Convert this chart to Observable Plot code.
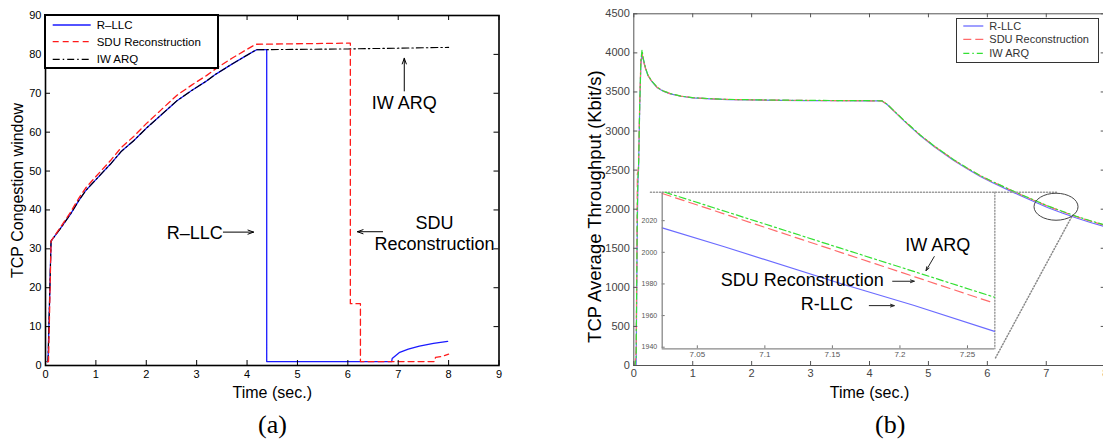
<!DOCTYPE html>
<html><head><meta charset="utf-8">
<script src="https://cdn.jsdelivr.net/npm/d3@7"></script>
<script src="https://cdn.jsdelivr.net/npm/@observablehq/plot@0.6"></script>
<style>
html,body{margin:0;padding:0;background:#fff;overflow:hidden;}
#wrap{position:relative;width:1103px;height:448px;overflow:hidden;font-family:"Liberation Sans",Arial,Helvetica,sans-serif;}
#wrap > svg, #wrap > div{position:absolute;}
.cap{font-family:"Liberation Serif","Times New Roman",serif;font-size:26px;line-height:1;}
</style></head><body><div id="wrap"></div>
<script>
// ---------------- Panel (a): TCP congestion window ----------------
const seriesNamesA = ["R–LLC", "SDU Reconstruction", "IW ARQ"];
const xTicksA = [0,1,2,3,4,5,6,7,8,9];
const yTicksA = [0,10,20,30,40,50,60,70,80,90];

const cwTimeRLLC = [0.03,0.05,0.11,0.3,0.5,0.66,0.8,1.0,1.29,1.5,1.75,2.0,2.3,2.61,2.9,3.2,3.39,3.7,4.0,4.19,4.39,4.39,6.87,6.88,7.03,7.2,7.42,7.7,7.98];
const cwRLLC     = [1,1,32,35.3,39.0,42.4,45.0,47.8,51.8,55.0,57.8,61.0,64.5,68.1,70.7,73.2,75.0,77.5,79.8,81.2,81.2,1,1,1.8,3.4,4.2,5.0,5.7,6.2];

const cwTimeSDU = [0.04,0.06,0.11,0.3,0.5,0.66,0.8,1.0,1.29,1.5,1.75,2.0,2.3,2.61,2.9,3.2,3.39,3.7,4.0,4.17,6.05,6.05,6.25,6.25,7.72,7.74,7.85,8.0];
const cwSDU     = [1,1,32,35.6,39.5,43.0,45.7,48.6,52.7,56.0,58.9,62.2,65.8,69.5,72.1,74.6,76.4,79.0,81.3,82.6,82.9,15.9,15.9,1,1,2.1,2.3,2.9];

const cwTimeIW = [0.03,0.05,0.11,0.3,0.5,0.66,0.8,1.0,1.29,1.5,1.75,2.0,2.3,2.61,2.9,3.2,3.39,3.7,4.0,4.19,6.0,8.0];
const cwIW     = [1,1,32,35.3,39.0,42.4,45.0,47.8,51.8,55.0,57.8,61.0,64.5,68.1,70.7,73.2,75.0,77.5,79.8,81.2,81.4,81.8];

const annTextA  = [{label:"R–LLC", t:2.96, v:34.3}, {label:"SDU\nReconstruction", t:7.72, v:34.1}, {label:"IW ARQ", t:7.12, v:67.6}];
const annArrowA = [{t1:3.53,v1:34.3,t2:4.13,v2:34.3}, {t1:6.69,v1:34.4,t2:6.19,v2:34.4}, {t1:7.12,v1:70.6,t2:7.12,v2:79.0}];

// ---------------- Panel (b): TCP average throughput ----------------
const seriesNamesB = ["R-LLC", "SDU Reconstruction", "IW ARQ"];
const xTicksB = [0,1,2,3,4,5,6,7,8];
const yTicksB = [0,500,1000,1500,2000,2500,3000,3500,4000,4500];

const thrTime = [0,0.02,0.04,0.05,0.06,0.07,0.08,0.10,0.12,0.14,0.16,0.20,0.24,0.30,0.40,0.50,0.62,0.80,1.0,1.3,1.6,2.0,2.5,3.0,3.5,4.0,4.21,4.30,4.45,4.60,4.86,5.10,5.43,5.65,5.88,6.10,6.45,6.75,7.02,7.27,7.50,7.75,8.0];
const thrRLLC = [0,0,0,1000,1800,2350,2500,3300,3850,3980,3920,3800,3710,3640,3553,3510,3476,3445,3425,3412,3403,3398,3393,3390,3388,3386,3385,3340,3230,3120,2943,2800,2623,2520,2418,2335,2212,2112,2022,1952,1890,1830,1774];
const thrSDU  = [0,0,200,1200,2450,2480,2550,3350,3900,4000,3900,3800,3712,3642,3556,3512,3478,3446,3426,3413,3404,3399,3394,3391,3389,3387,3386,3342,3233,3124,2948,2806,2630,2528,2427,2346,2225,2127,2040,1970,1908,1848,1792];
const thrIW   = [0,0,100,1100,2000,2400,2520,3300,3900,4040,3930,3805,3715,3645,3558,3513,3479,3447,3427,3414,3405,3400,3395,3392,3390,3388,3387,3343,3234,3126,2950,2808,2633,2531,2430,2349,2228,2130,2043,1974,1912,1852,1796];

// inset (zoom near t = 7.15 s)
const insetXTicks = [7.05,7.1,7.15,7.2,7.25];
const insetYTicks = [1940,1960,1980,2000,2020];
const insetXDomain = [7.024, 7.270];
const insetYDomain = [1939, 2038];
const insTimeRLLC = [7.024,7.07,7.156,7.21,7.27];
const insRLLC     = [2015.4,2003.5,1980.3,1966.5,1950.0];
const insTimeSDU  = [7.024,7.10,7.156,7.20,7.27];
const insSDU      = [2037.2,2015.8,2000.0,1987.6,1967.8];
const insTimeIW   = [7.026,7.10,7.156,7.20,7.27];
const insIW       = [2038.0,2017.9,2002.6,1990.7,1971.6];
const insText  = [{label:"IW ARQ",t:7.228,v:2004.2},{label:"SDU Reconstruction",t:7.1277,v:1982.5},{label:"R-LLC",t:7.1459,v:1966.9}];
const insArrow = [{t1:7.2254,v1:1997.3,t2:7.2193,v2:1988.4},{t1:7.1946,v1:1981.7,t2:7.2106,v2:1981.7},{t1:7.1773,v1:1966.3,t2:7.1958,v2:1966.3}];

// zoom-box annotation (in panel (b) data coordinates)
const zoomTop   = [{t:0.283,v:2217},{t:7.19,v:2217}];
const zoomRight = [{t:6.127,v:2217},{t:6.127,v:214}];
const zoomDiag  = [{t:6.139,v:98},{t:7.427,v:1898}];
const zoomEllipse = {t:7.174, v:2025};

// ---------------- helpers ----------------
const rows = (ts, vs) => ts.map((t,i)=>({t, v: vs[i]}));
function inwardTicks(xt, yt, pw, ph, len, stroke, sides) {
  const m = [];
  if (sides.includes("b")) m.push(Plot.tickX(xt,{x:d=>d, insetTop:ph-len, stroke}));
  if (sides.includes("t")) m.push(Plot.tickX(xt,{x:d=>d, insetBottom:ph-len, stroke}));
  if (sides.includes("l")) m.push(Plot.tickY(yt,{y:d=>d, insetRight:pw-len, stroke}));
  if (sides.includes("r")) m.push(Plot.tickY(yt,{y:d=>d, insetLeft:pw-len, stroke}));
  return m;
}
const FONT = "'Liberation Sans', Arial, Helvetica, sans-serif";
const wrap = d3.select("#wrap");

// ---------------- Plot (a) ----------------
const A = {w:540, h:405, ml:45, mr:41.5, mt:15, mb:40};
const aPW = A.w - A.ml - A.mr, aPH = A.h - A.mt - A.mb;
const colorsA = ["#1a1aff", "#ff1a1a", "#000000"];
const dashA = [null, "6,4", "7,3,1.5,3"];
const plotA = Plot.plot({
  width:A.w, height:A.h, marginLeft:A.ml, marginRight:A.mr, marginTop:A.mt, marginBottom:A.mb,
  x:{domain:[0,9]}, y:{domain:[0,90]},
  style:{fontFamily:FONT, fontSize:"11px", color:"black", background:"transparent"},
  marks:[
    Plot.line(rows(cwTimeRLLC,cwRLLC),{x:"t",y:"v",stroke:colorsA[0],strokeWidth:1.3}),
    Plot.line(rows(cwTimeIW,cwIW),{x:"t",y:"v",stroke:colorsA[2],strokeWidth:1.1,strokeDasharray:dashA[2]}),
    Plot.line(rows(cwTimeSDU,cwSDU),{x:"t",y:"v",stroke:colorsA[1],strokeWidth:1.3,strokeDasharray:dashA[1]}),
    ...inwardTicks(xTicksA, yTicksA, aPW, aPH, 5, "black", "btlr"),
    Plot.frame({stroke:"black", strokeWidth:1.6}),
    Plot.axisX(xTicksA,{tickSize:0, tickPadding:5, label:null, tickFormat:d=>String(d)}),
    Plot.axisY(yTicksA,{tickSize:0, tickPadding:4, label:null, tickFormat:d=>String(d)}),
    Plot.text(["Time (sec.)"],{frameAnchor:"bottom", dy:27, lineAnchor:"middle", textAnchor:"middle", fontSize:16, text:d=>d}),
    Plot.text(["TCP Congestion window"],{frameAnchor:"left", dx:-28, rotate:-90, textAnchor:"middle", lineAnchor:"middle", fontSize:16, text:d=>d}),
    Plot.text(annTextA,{x:"t", y:"v", text:"label", fontSize:18, lineHeight:1.17}),
    Plot.arrow(annArrowA,{x1:"t1",y1:"v1",x2:"t2",y2:"v2",stroke:"black",strokeWidth:1,headLength:9,headAngle:40})
  ]
});
wrap.append(()=>plotA).style("left","0px").style("top","0px");

// legend (a)
const legA = wrap.append("svg").attr("width",178).attr("height",57).style("left","44px").style("top","14px");
legA.append("rect").attr("x",1).attr("y",1).attr("width",173).attr("height",53).attr("fill","white").attr("stroke","black").attr("stroke-width",2);
seriesNamesA.forEach((n,i)=>{
  const y = [11,27.7,45.3][i];
  legA.append("line").attr("x1",8.7).attr("x2",46.7).attr("y1",y).attr("y2",y)
    .attr("stroke",colorsA[i]).attr("stroke-width",1.3).attr("stroke-dasharray",dashA[i]);
  legA.append("text").attr("x",52.7).attr("y",y).attr("dy","0.35em").attr("font-family",FONT).attr("font-size","11.5px").text(n);
});

// ---------------- Plot (b) ----------------
const B = {w:548, h:405, ml:73.3, mr:3.3, mt:13.3, mb:40};
const bPW = B.w - B.ml - B.mr, bPH = B.h - B.mt - B.mb;
const colorsB = ["#6b6bff", "#ff6b6b", "#33e033"];
const dashB = [null, "8,4", "6,3,1.5,3"];
const plotB = Plot.plot({
  width:B.w, height:B.h, marginLeft:B.ml, marginRight:B.mr, marginTop:B.mt, marginBottom:B.mb,
  x:{domain:[0,8]}, y:{domain:[0,4500]},
  style:{fontFamily:FONT, fontSize:"11px", color:"#444", background:"transparent"},
  marks:[
    Plot.line(rows(thrTime,thrRLLC),{x:"t",y:"v",stroke:colorsB[0],strokeWidth:1.2}),
    Plot.line(rows(thrTime,thrSDU),{x:"t",y:"v",stroke:colorsB[1],strokeWidth:1.2,strokeDasharray:dashB[1]}),
    Plot.line(rows(thrTime,thrIW),{x:"t",y:"v",stroke:colorsB[2],strokeWidth:1.2,strokeDasharray:dashB[2]}),
    ...inwardTicks(xTicksB, yTicksB, bPW, bPH, 4, "#555", "btlr"),
    Plot.frame({stroke:"#555", strokeWidth:1}),
    Plot.line(zoomTop,{x:"t",y:"v",stroke:"#999",strokeDasharray:"1,2"}),
    Plot.line(zoomRight,{x:"t",y:"v",stroke:"#999",strokeDasharray:"1,2"}),
    Plot.line(zoomDiag,{x:"t",y:"v",stroke:"#888",strokeDasharray:"1,2"}),
    Plot.axisX(xTicksB,{tickSize:0, tickPadding:4, label:null, tickFormat:d=>String(d)}),
    Plot.axisY(yTicksB,{tickSize:0, tickPadding:4, label:null, tickFormat:d=>String(d)}),
    Plot.text(["Time (sec.)"],{frameAnchor:"bottom", dy:27, lineAnchor:"middle", textAnchor:"middle", fontSize:16, fill:"black", text:d=>d}),
    Plot.text(["TCP Average Throughput (Kbit/s)"],{frameAnchor:"left", dx:-38.5, dy:17, rotate:-90, textAnchor:"middle", lineAnchor:"middle", fontSize:18.5, fill:"black", text:d=>d})
  ]
});
wrap.append(()=>plotB).style("left","560px").style("top","0px");
{
  const sx = plotB.scale("x"), sy = plotB.scale("y");
  d3.select(plotB).append("ellipse")
    .attr("cx", sx.apply(zoomEllipse.t)).attr("cy", sy.apply(zoomEllipse.v))
    .attr("rx", 22).attr("ry", 13.5).attr("fill","none").attr("stroke","#444").attr("stroke-width",1);
}

// legend (b)
const legB = wrap.append("svg").attr("width",144).attr("height",46).style("left","956px").style("top","18px");
legB.append("rect").attr("x",0.5).attr("y",0.5).attr("width",142).attr("height",44).attr("fill","white").attr("stroke","#333").attr("stroke-width",1);
seriesNamesB.forEach((n,i)=>{
  const y = [8,21.3,35.3][i];
  legB.append("line").attr("x1",7.3).attr("x2",27.3).attr("y1",y).attr("y2",y)
    .attr("stroke",colorsB[i]).attr("stroke-width",1.3).attr("stroke-dasharray",dashB[i]);
  legB.append("text").attr("x",33.3).attr("y",y).attr("dy","0.35em").attr("font-family",FONT).attr("font-size","11px").attr("fill","#333").text(n);
});

// ---------------- Inset ----------------
const I = {w:390, h:180, ml:41.7, mr:16, mt:11.7, mb:11.7};
const iPW = I.w - I.ml - I.mr, iPH = I.h - I.mt - I.mb;
const plotI = Plot.plot({
  width:I.w, height:I.h, marginLeft:I.ml, marginRight:I.mr, marginTop:I.mt, marginBottom:I.mb,
  x:{domain:insetXDomain}, y:{domain:insetYDomain},
  style:{fontFamily:FONT, fontSize:"8px", color:"#555", background:"transparent"},
  marks:[
    Plot.line(rows(insTimeRLLC,insRLLC),{x:"t",y:"v",stroke:colorsB[0],strokeWidth:1.2}),
    Plot.line(rows(insTimeSDU,insSDU),{x:"t",y:"v",stroke:colorsB[1],strokeWidth:1.2,strokeDasharray:"9,5"}),
    Plot.line(rows(insTimeIW,insIW),{x:"t",y:"v",stroke:colorsB[2],strokeWidth:1.2,strokeDasharray:"7,3,2,3"}),
    ...inwardTicks(insetXTicks, insetYTicks, iPW, iPH, 3, "#777", "bl"),
    Plot.ruleX([insetXDomain[0]],{stroke:"#888", strokeWidth:1.3}),
    Plot.ruleY([insetYDomain[0]],{stroke:"#888", strokeWidth:1.3}),
    Plot.axisX(insetXTicks,{tickSize:0, tickPadding:3, label:null, fontSize:8, tickFormat:d=>String(d)}),
    Plot.axisY(insetYTicks,{tickSize:0, tickPadding:5, label:null, fontSize:7, tickFormat:d=>String(d)}),
    Plot.text(insText,{x:"t",y:"v",text:"label",fontSize:18,fill:"black"}),
    Plot.arrow(insArrow,{x1:"t1",y1:"v1",x2:"t2",y2:"v2",stroke:"#222",strokeWidth:1,headLength:6,headAngle:40})
  ]
});
wrap.append(()=>plotI).style("left","620px").style("top","180px");

// captions
wrap.append("div").attr("class","cap").style("left","258px").style("top","412px").text("(a)");
wrap.append("div").attr("class","cap").style("left","875px").style("top","412px").text("(b)");
</script></body></html>
